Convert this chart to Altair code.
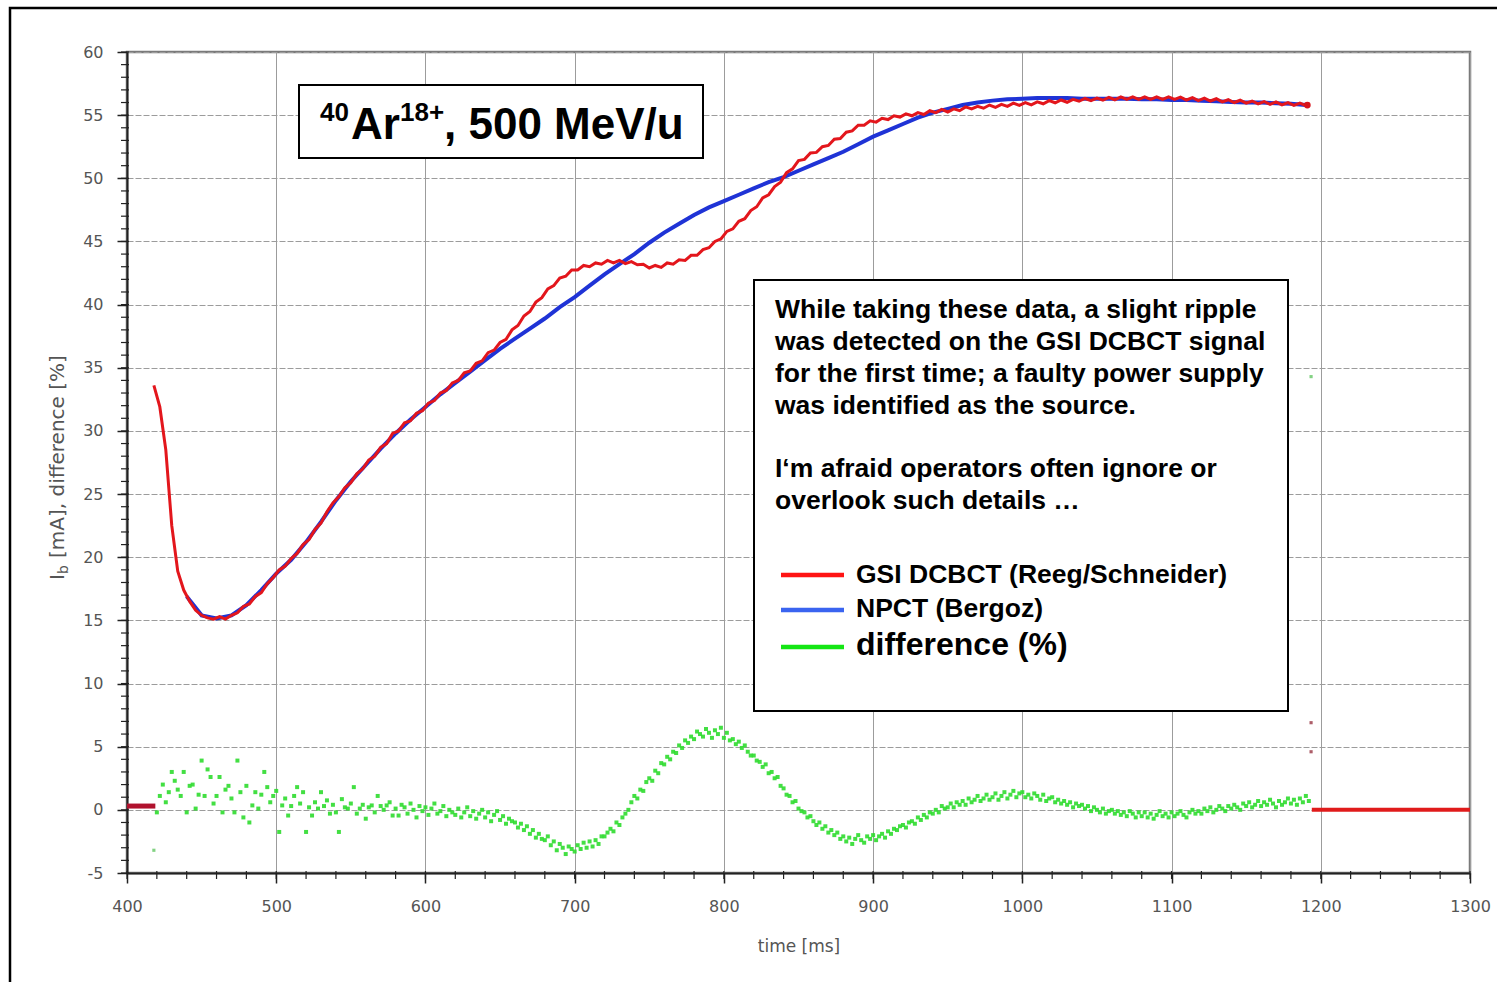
import altair as alt
import pandas as pd

# ---------------- data ----------------
X_TICKS = [400, 500, 600, 700, 800, 900, 1000, 1100, 1200, 1300]
Y_TICKS = [-5, 0, 5, 10, 15, 20, 25, 30, 35, 40, 45, 50, 55, 60]
X_MINOR = list(range(400, 1301, 20))
Y_MINOR = list(range(-5, 61, 1))

# NPCT (Bergoz) beam current [mA], sampled every 10 ms from 440 ms
BLUE_T0, BLUE_DT = 440, 10
BLUE_V = [
    16.9, 15.4, 15.15, 15.4, 16.2, 17.4, 18.7, 19.8, 21.2, 22.8,
    24.5, 26.0, 27.3, 28.6, 29.8, 30.9, 31.9, 32.9, 33.8, 34.7,
    35.6, 36.5, 37.3, 38.1, 38.9, 39.8, 40.6, 41.5, 42.4, 43.2,
    44.0, 44.9, 45.7, 46.4, 47.1, 47.7, 48.2, 48.7, 49.2, 49.7,
    50.1, 50.6, 51.1, 51.6, 52.1, 52.7, 53.3, 53.8, 54.3, 54.8,
    55.2, 55.5, 55.8, 56.0, 56.15, 56.25, 56.3, 56.35, 56.35, 56.35,
    56.3, 56.3, 56.3, 56.3, 56.25, 56.25, 56.2, 56.2, 56.15, 56.1,
    56.05, 56.0, 56.0, 55.95, 55.9, 55.8,
]

# GSI DCBCT beam current [mA], sampled every 4 ms from 418 ms (with ripple)
RED_T0, RED_DT = 418, 4
RED_V = [
    33.6, 31.9, 28.5, 22.5, 18.9, 17.4, 16.5, 15.8, 15.4, 15.2,
    15.1, 15.3, 15.1, 15.4, 15.6, 16.1, 16.3, 16.9, 17.2, 17.9,
    18.4, 19.0, 19.3, 19.9, 20.3, 21.0, 21.4, 22.2, 22.7, 23.6,
    24.3, 24.8, 25.5, 25.9, 26.6, 27.0, 27.7, 28.0, 28.7, 29.0,
    29.8, 30.0, 30.65, 30.8, 31.4, 31.6, 32.2, 32.4, 33.0, 33.2,
    33.8, 34.0, 34.6, 34.75, 35.35, 35.55, 36.2, 36.4, 37.0, 37.25,
    38.0, 38.35, 39.1, 39.45, 40.2, 40.55, 41.25, 41.5, 42.1, 42.25,
    42.75, 42.75, 43.1, 43.0, 43.3, 43.2, 43.5, 43.3, 43.5, 43.25,
    43.4, 43.15, 43.2, 42.9, 43.1, 42.95, 43.3, 43.2, 43.55, 43.5,
    43.9, 43.9, 44.35, 44.5, 45.0, 45.2, 45.8, 46.0, 46.6, 46.8,
    47.45, 47.75, 48.45, 48.7, 49.35, 49.7, 50.45, 50.75, 51.4, 51.5,
    52.0, 52.05, 52.5, 52.6, 53.1, 53.15, 53.65, 53.75, 54.2, 54.2,
    54.55, 54.45, 54.75, 54.65, 54.95, 54.85, 55.1, 54.95, 55.2, 55.05,
    55.35, 55.2, 55.45, 55.25, 55.5, 55.35, 55.65, 55.5, 55.7, 55.55,
    55.8, 55.62, 55.85, 55.7, 55.95, 55.78, 56.0, 55.82, 56.05, 55.9,
    56.15, 55.98, 56.2, 56.02, 56.25, 56.1, 56.32, 56.15, 56.35, 56.18,
    56.4, 56.22, 56.45, 56.25, 56.45, 56.25, 56.45, 56.25, 56.45, 56.25,
    56.45, 56.25, 56.43, 56.2, 56.38, 56.15, 56.35, 56.12, 56.3, 56.05,
    56.22, 56.0, 56.18, 55.95, 56.12, 55.9, 56.08, 55.85, 56.05, 55.82,
    56.0, 55.78, 55.95, 55.75,
]

# difference [%], sampled every 2 ms from 420 ms
GREEN_T0, GREEN_DT = 420, 2
GREEN_V = [
    -0.2, 1.1, 2.0, 0.6, 1.4, 3.0, 2.3, 1.6, 1.1, 3.0,
    -0.2, 1.9, 2.0, 0.1, 1.2, 3.9, 1.1, 3.2, 2.6, 0.5,
    1.1, 2.6, -0.2, 1.6, 1.9, 0.9, -0.2, 3.9, 1.4, -0.6,
    1.9, -1.0, 0.35, 1.4, 0.1, 1.2, 3.0, 1.8, 0.6, 1.1,
    1.5, -1.75, 0.35, 0.9, -0.45, 0.3, 1.1, 1.8, 0.5, 1.4,
    -1.75, 0.2, -0.45, 0.6, 0.1, 1.4, 0.3, 0.75, -0.3, 0.4,
    -0.2, -1.75, 0.85, 0.2, 0.1, 0.5, 1.8, -0.3, 0.1, 0.4,
    -0.7, 0.2, 0.35, -0.2, 1.1, 0.3, 0.0, 0.35, 0.6, -0.45,
    0.1, -0.45, 0.4, 0.2, -0.3, 0.5, 0.0, -0.6, 0.3, -0.1,
    0.2, -0.4, 0.1, 0.5, -0.3, -0.1, 0.3, -0.5, 0.0, -0.2,
    -0.4, 0.1, -0.6, -0.2, 0.2, -0.5, -0.1, -0.7, -0.3, 0.0,
    -0.6, -0.2, -0.9, -0.4, -0.1, -0.8, -0.5, -1.1, -0.7, -0.9,
    -1.0, -1.4, -1.1, -1.6, -1.3, -1.9, -1.6, -2.2, -1.9, -2.3,
    -2.4, -2.1, -2.8, -2.5, -3.2, -2.7, -3.0, -3.5, -2.9, -3.1,
    -3.3, -2.8, -3.1, -2.6, -3.0, -2.5, -2.9, -2.4, -2.7, -2.1,
    -2.1, -1.8, -1.5, -1.7, -1.0, -1.2, -0.6, -0.3, 0.0, 0.6,
    1.1, 0.9, 1.6, 1.5, 2.2, 2.5, 2.3, 3.1, 2.9, 3.7,
    3.6, 4.2, 4.0, 4.6, 4.5, 5.1, 4.9, 5.5, 5.3, 5.8,
    5.6, 6.2, 6.0, 5.8, 6.4, 6.1, 5.7, 6.3, 6.0, 6.5,
    5.7, 6.1, 5.5, 5.6, 5.2, 5.4, 4.9, 5.1, 4.6, 4.3,
    4.3, 3.9, 3.8, 3.4, 3.6, 2.9, 3.0, 2.5, 2.6, 1.9,
    1.7, 1.2, 1.1, 0.6, 0.7, 0.1, -0.1, -0.2, -0.6, -0.5,
    -0.9, -1.2, -1.0, -1.5, -1.3, -1.8, -1.6, -2.0, -1.8, -2.3,
    -2.1, -2.5, -2.2, -2.7, -2.3, -2.0, -2.4, -2.6, -2.1, -2.3,
    -2.0, -2.4, -2.1, -1.9, -2.2, -1.7, -1.9, -1.5, -1.6, -1.3,
    -1.2, -1.4, -1.0, -0.9, -1.1, -0.6, -0.8, -0.4, -0.6, -0.2,
    -0.3, 0.0, -0.2, 0.3, 0.1, 0.2, 0.5, 0.2, 0.6, 0.4,
    0.7, 0.4, 0.9, 0.6, 0.8, 1.1, 0.7, 0.9, 1.2, 0.8,
    1.0, 1.3, 0.8, 1.1, 1.4, 0.9, 1.2, 1.5, 1.0, 1.3,
    1.4, 1.0, 1.2, 0.9, 1.3, 1.1, 0.8, 1.2, 0.7, 0.9,
    1.0, 0.6, 0.8, 0.5, 0.7, 0.4, 0.6, 0.2, 0.5, 0.3,
    0.4, 0.1, 0.3, -0.1, 0.2, 0.0, -0.2, 0.1, -0.3, -0.1,
    0.0, -0.3, -0.1, -0.4, -0.2, -0.5, -0.1, -0.3, -0.6, -0.2,
    -0.5, -0.2, -0.6, -0.3, -0.7, -0.4, -0.1, -0.5, -0.3, -0.6,
    -0.2, -0.5, -0.3, -0.1, -0.4, -0.6, -0.2, 0.0, -0.3, -0.1,
    -0.3, 0.1, -0.1, 0.2, -0.2, 0.0, 0.3, 0.1, -0.1, 0.3,
    0.1, 0.4, 0.2, 0.0, 0.5, 0.3, 0.6, 0.2, 0.4, 0.7,
    0.3, 0.6, 0.4, 0.8, 0.5, 0.2, 0.7, 0.4, 0.6, 0.9,
    0.5, 0.8, 0.4, 0.9, 0.6, 1.1, 0.7,
]

GREEN_EXTRA_T = [418, 1193.5]
GREEN_EXTRA_V = [-3.2, 34.3]
RED_EXTRA_T = [1193.5, 1193.5]
RED_EXTRA_V = [6.9, 4.6]
RED_END_T = [1191]
RED_END_V = [55.8]
BASE_START_T = [400, 419]
BASE_START_V = [0.3, 0.3]
BASE_END_T = [1194, 1300]
BASE_END_V = [0.0, 0.0]

TITLE_PARTS = ["40", "Ar", "18+", ", 500 MeV/u"]
NOTE_LINES = [
    "While taking these data, a slight ripple",
    "was detected on the GSI DCBCT signal",
    "for the first time; a faulty power supply",
    "was identified as the source.",
    "I\u2018m afraid operators often ignore or",
    "overlook such details \u2026",
]
LEGEND_LABELS = ["GSI DCBCT (Reeg/Schneider)", "NPCT (Bergoz)", "difference (%)"]
LEGEND_COLORS = ["#ff1414", "#3a64f0", "#14e614"]

# ---------------- layout ----------------
W, H = 1343, 821
PAD = {"left": 127, "top": 52, "right": 27, "bottom": 109}
FONT = "DejaVu Sans"
BOLD = "Liberation Sans"

XS = alt.Scale(domain=[400, 1300], nice=False, zero=False)
YS = alt.Scale(domain=[-5, 60], nice=False, zero=False)
XAX = alt.Axis(values=X_TICKS, title="time [ms]", grid=True, gridColor="#9c9c9c",
               gridWidth=1, domainColor="#222222", domainWidth=2, tickColor="#222222",
               tickSize=10, tickWidth=1.5, labelFont=FONT, labelFontSize=16,
               labelColor="#555555", labelPadding=15, labelFlush=False,
               labelExpr="'' + datum.value",
               titleFont=FONT, titleFontSize=17, titleColor="#555555",
               titleFontWeight="normal", titlePadding=24)
YAX = alt.Axis(values=Y_TICKS, title=None, grid=True, gridColor="#9c9c9c",
               gridWidth=1, gridDash=[6, 2], domainColor="#222222", domainWidth=2,
               tickColor="#222222", tickSize=10, tickWidth=1.5, labelFont=FONT,
               labelFontSize=16, labelColor="#555555", labelPadding=14,
               labelExpr="'' + datum.value")


def xy():
    return dict(x=alt.X("t:Q", scale=XS, axis=XAX), y=alt.Y("v:Q", scale=YS, axis=YAX))


def series(t0, dt, vals):
    return pd.DataFrame({"t": [t0 + dt * i for i in range(len(vals))], "v": vals})


blue_df = series(BLUE_T0, BLUE_DT, BLUE_V)
red_df = series(RED_T0, RED_DT, RED_V)
green_df = series(GREEN_T0, GREEN_DT, GREEN_V)
gx_df = pd.DataFrame({"t": GREEN_EXTRA_T, "v": GREEN_EXTRA_V})
rx_df = pd.DataFrame({"t": RED_EXTRA_T, "v": RED_EXTRA_V})
rend_df = pd.DataFrame({"t": RED_END_T, "v": RED_END_V})
bs_df = pd.DataFrame({"t": BASE_START_T, "v": BASE_START_V})
be_df = pd.DataFrame({"t": BASE_END_T, "v": BASE_END_V})
ymin_df = pd.DataFrame({"v": Y_MINOR})
xmin_df = pd.DataFrame({"t": X_MINOR})
one = pd.DataFrame({"k": [0]})

layers = []

# minor ticks
layers.append(alt.Chart(ymin_df).mark_rule(color="#222222", strokeWidth=1.2).encode(
    y=alt.Y("v:Q", scale=YS, axis=YAX), x=alt.value(-6), x2=alt.value(2)))
layers.append(alt.Chart(xmin_df).mark_rule(color="#222222", strokeWidth=1.2).encode(
    x=alt.X("t:Q", scale=XS, axis=XAX), y=alt.value(H - 2), y2=alt.value(H + 6)))

# baseline segments
layers.append(alt.Chart(bs_df).mark_line(color="#b0122e", strokeWidth=5).encode(**xy()))
layers.append(alt.Chart(be_df).mark_line(color="#e01b1b", strokeWidth=4).encode(**xy()))

# difference points
layers.append(alt.Chart(green_df).mark_square(size=16, color="#2fdc2f", opacity=0.9).encode(**xy()))
layers.append(alt.Chart(gx_df).mark_square(size=10, color="#4fbf4f").encode(**xy()))

# currents
layers.append(alt.Chart(blue_df).mark_line(color="#1f33d6", strokeWidth=4).encode(**xy()))
layers.append(alt.Chart(red_df).mark_line(color="#e3161c", strokeWidth=3).encode(**xy()))
layers.append(alt.Chart(rend_df).mark_circle(size=45, color="#d8141c", opacity=1).encode(**xy()))
layers.append(alt.Chart(rx_df).mark_square(size=10, color="#8a1a2a").encode(**xy()))

# title box
layers.append(alt.Chart(one).mark_rect(fill="white", stroke="black", strokeWidth=2).encode(
    x=alt.value(172), x2=alt.value(576), y=alt.value(33), y2=alt.value(106)))
title_specs = [(193, 69, 26), (224, 87, 44), (273, 69, 26), (317, 87, 44)]
for part, (px, py, fs) in zip(TITLE_PARTS, title_specs):
    layers.append(alt.Chart(pd.DataFrame({"txt": [part]})).mark_text(
        font=BOLD, fontWeight="bold", fontSize=fs, align="left", baseline="alphabetic",
        color="black").encode(x=alt.value(px), y=alt.value(py), text="txt:N"))

# annotation box
layers.append(alt.Chart(one).mark_rect(fill="white", stroke="black", strokeWidth=2).encode(
    x=alt.value(627), x2=alt.value(1161), y=alt.value(228), y2=alt.value(659)))
note_y = [266, 298, 330, 362, 425, 457]
for line, py in zip(NOTE_LINES, note_y):
    layers.append(alt.Chart(pd.DataFrame({"txt": [line]})).mark_text(
        font=BOLD, fontWeight="bold", fontSize=26.5, align="left", baseline="alphabetic",
        color="black").encode(x=alt.value(648), y=alt.value(py), text="txt:N"))
leg_line_y = [523, 558, 595]
leg_text_y = [531, 565, 603]
leg_fs = [26.5, 26.5, 32]
for lab, col, ly, ty, fs in zip(LEGEND_LABELS, LEGEND_COLORS, leg_line_y, leg_text_y, leg_fs):
    layers.append(alt.Chart(one).mark_rule(color=col, strokeWidth=4.5).encode(
        x=alt.value(654), x2=alt.value(717), y=alt.value(ly)))
    layers.append(alt.Chart(pd.DataFrame({"txt": [lab]})).mark_text(
        font=BOLD, fontWeight="bold", fontSize=fs, align="left", baseline="alphabetic",
        color="black").encode(x=alt.value(729), y=alt.value(ty), text="txt:N"))

# y-axis title with subscript
ytitle = [("I", 528, -69, 20), ("b", 522, -63, 14), ("[mA], difference [%]", 506, -69, 20)]
for txt, py, px, fs in ytitle:
    layers.append(alt.Chart(pd.DataFrame({"txt": [txt]})).mark_text(
        font=FONT, fontSize=fs, angle=270, align="left", baseline="middle",
        color="#555555").encode(x=alt.value(px), y=alt.value(py), text="txt:N"))

# outer frame
layers.append(alt.Chart(one).mark_rect(fill=None, stroke="black", strokeWidth=2.5).encode(
    x=alt.value(-117), x2=alt.value(1420), y=alt.value(-44), y2=alt.value(960)))

chart = alt.layer(*layers).properties(
    width=W, height=H, padding=PAD,
    autosize=alt.AutoSizeParams(type="none"),
    background="white",
).configure_view(stroke="#7a7a7a", strokeWidth=2.5)

chart.save("out.html", embed_options={"renderer": "svg", "actions": False})
